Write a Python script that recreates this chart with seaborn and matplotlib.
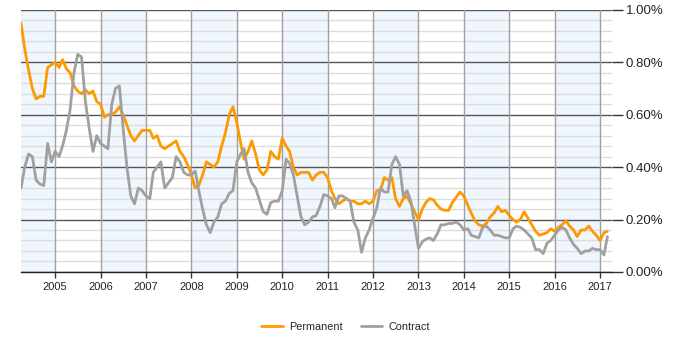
import matplotlib
matplotlib.use("Agg")
import matplotlib.pyplot as plt
import numpy as np
import pandas as pd
import seaborn as sns

start_month = "2004-04-01"
permanent = [
    0.95, 0.85, 0.77, 0.70, 0.66, 0.67, 0.67, 0.78, 0.79, 0.80, 0.78, 0.81,
    0.775, 0.76, 0.71, 0.69, 0.68, 0.695, 0.68, 0.69, 0.65, 0.64, 0.59, 0.60,
    0.60, 0.61, 0.63, 0.60, 0.56, 0.52, 0.50, 0.52, 0.54, 0.54, 0.54, 0.51,
    0.52, 0.48, 0.47, 0.48, 0.49, 0.50, 0.46, 0.44, 0.41, 0.37, 0.32, 0.33,
    0.37, 0.42, 0.41, 0.40, 0.42, 0.48, 0.53, 0.60, 0.63, 0.57, 0.49, 0.43,
    0.46, 0.50, 0.45, 0.39, 0.37, 0.39, 0.46, 0.44, 0.43, 0.51, 0.48, 0.46,
    0.40, 0.37, 0.38, 0.38, 0.38, 0.35, 0.37, 0.38, 0.38, 0.36, 0.31, 0.28,
    0.26, 0.27, 0.28, 0.27, 0.27, 0.26, 0.26, 0.27, 0.26, 0.27, 0.31, 0.31,
    0.36, 0.35, 0.36, 0.28, 0.25, 0.28, 0.29, 0.26, 0.23, 0.20, 0.24, 0.265,
    0.28, 0.275, 0.255, 0.24, 0.235, 0.235, 0.265, 0.285, 0.305, 0.29, 0.255, 0.225,
    0.195, 0.18, 0.175, 0.185, 0.21, 0.225, 0.25, 0.23, 0.235, 0.215, 0.20, 0.19,
    0.20, 0.23, 0.205, 0.18, 0.155, 0.14, 0.145, 0.15, 0.165, 0.155, 0.17, 0.18,
    0.195, 0.175, 0.16, 0.135, 0.16, 0.16, 0.175, 0.155, 0.14, 0.12, 0.15, 0.155,
]
contract = [
    0.32, 0.40, 0.45, 0.44, 0.35, 0.335, 0.33, 0.49, 0.42, 0.46, 0.44, 0.48,
    0.54, 0.62, 0.76, 0.83, 0.82, 0.65, 0.55, 0.46, 0.52, 0.49, 0.48, 0.47,
    0.64, 0.70, 0.71, 0.55, 0.40, 0.29, 0.26, 0.32, 0.31, 0.29, 0.28, 0.38,
    0.40, 0.42, 0.32, 0.34, 0.36, 0.44, 0.42, 0.38, 0.37, 0.37, 0.385, 0.31,
    0.24, 0.18, 0.15, 0.19, 0.21, 0.26, 0.27, 0.30, 0.31, 0.42, 0.45, 0.47,
    0.38, 0.34, 0.32, 0.275, 0.23, 0.22, 0.265, 0.27, 0.27, 0.31, 0.43, 0.415,
    0.37, 0.29, 0.21, 0.18, 0.19, 0.21, 0.215, 0.25, 0.295, 0.29, 0.28, 0.245,
    0.29, 0.29, 0.28, 0.27, 0.19, 0.16, 0.075, 0.13, 0.16, 0.205, 0.245, 0.32,
    0.305, 0.305, 0.41, 0.44, 0.41, 0.29, 0.31, 0.27, 0.18, 0.09, 0.115, 0.125,
    0.13, 0.12, 0.145, 0.18, 0.18, 0.185, 0.185, 0.19, 0.18, 0.16, 0.165, 0.14,
    0.135, 0.13, 0.17, 0.175, 0.16, 0.14, 0.14, 0.135, 0.13, 0.13, 0.165, 0.175,
    0.17, 0.16, 0.145, 0.13, 0.085, 0.085, 0.07, 0.11, 0.12, 0.14, 0.16, 0.17,
    0.16, 0.13, 0.105, 0.09, 0.07, 0.08, 0.08, 0.09, 0.085, 0.085, 0.065, 0.135,
]
series_names = ["Permanent", "Contract"]
series_colors = ["#FF9900", "#A0A0A0"]
year_ticks = list(range(2005, 2018))
y_ticks = [0.0, 0.2, 0.4, 0.6, 0.8, 1.0]

dates = pd.date_range(start_month, periods=len(permanent), freq="MS")
df = pd.DataFrame({
    "date": np.concatenate([dates, dates]),
    "value": permanent + contract,
    "series": [series_names[0]] * len(permanent) + [series_names[1]] * len(contract),
})

sns.set_style("white")
plt.rcParams["font.family"] = ["Liberation Sans", "DejaVu Sans"]

fig = plt.figure(figsize=(7, 3.5), dpi=100)
ax = fig.add_axes([0.03, 0.223, 0.844, 0.749])

xmin = pd.Timestamp("2004-04-01")
xmax = pd.Timestamp("2017-04-05")

# alternating year bands
for yr in [2004, 2006, 2008, 2010, 2012, 2014, 2016]:
    a = max(pd.Timestamp(f"{yr}-01-01"), xmin)
    b = pd.Timestamp(f"{yr + 1}-01-01")
    ax.axvspan(a, b, color="#F0F6FE", zorder=0, lw=0)

# grid lines
for v in np.arange(0, 1.0001, 0.04):
    is_major = abs(v / 0.2 - round(v / 0.2)) < 1e-6
    if not is_major:
        ax.axhline(v, color="#DCDCDC", lw=1, zorder=1)
for v in y_ticks:
    ax.axhline(v, color="#555555", lw=1, zorder=1)
for yr in year_ticks:
    ax.axvline(pd.Timestamp(f"{yr}-01-01"), color="#A0A0A0", lw=1, zorder=1)

sns.lineplot(data=df, x="date", y="value", hue="series", hue_order=series_names,
             palette=dict(zip(series_names, series_colors)), lw=2, ax=ax,
             zorder=3, legend=False)

ax.set_xlim(xmin, xmax)
ax.set_ylim(0, 1.0)
ax.set_xlabel("")
ax.set_ylabel("")

for s in ["left", "top", "right"]:
    ax.spines[s].set_visible(False)
ax.spines["bottom"].set_color("#222222")
ax.spines["bottom"].set_linewidth(1)

ax.set_xticks([pd.Timestamp(f"{y}-01-01") for y in year_ticks])
ax.set_xticklabels([str(y) for y in year_ticks])
ax.tick_params(axis="x", bottom=True, length=4, width=1, color="#333333",
               labelsize=8, pad=3, labelcolor="#222222")

ax.yaxis.tick_right()
ax.set_yticks(y_ticks)
ax.set_yticklabels([f"{v:.2f}%" for v in y_ticks])
ax.tick_params(axis="y", right=True, left=False, length=8, width=1, color="#333333",
               labelsize=9.5, pad=2, labelcolor="#222222")

handles = [plt.Line2D([], [], color=c, lw=2) for c in series_colors]
fig.legend(handles, series_names, loc="center", bbox_to_anchor=(0.494, 0.067),
           ncol=2, frameon=False, fontsize=7.8, handlelength=2.0, columnspacing=1.6,
           handletextpad=0.6)

fig.savefig("out.png", dpi=100)
